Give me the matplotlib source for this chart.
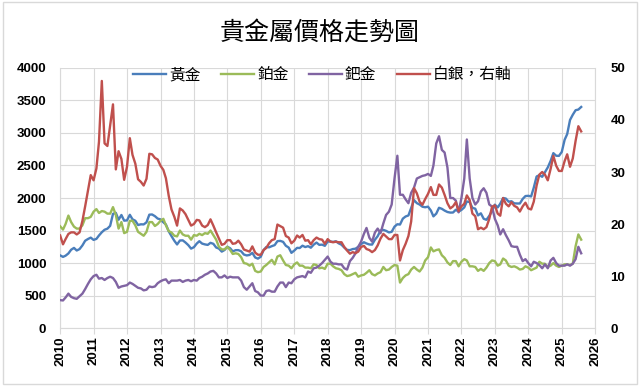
import matplotlib
matplotlib.use("Agg")
import matplotlib.pyplot as plt
import matplotlib.dates as mdates
import numpy as np
import pandas as pd

plt.rcParams['font.family'] = ['Noto Sans CJK TC', 'DejaVu Sans']

start_month = "2010-01-01"

gold = [
    1118, 1095, 1113, 1148, 1205, 1233, 1193, 1215, 1271, 1343, 1370, 1391,
    1356, 1372, 1424, 1474, 1512, 1529, 1572, 1756, 1772, 1666, 1739, 1652,
    1656, 1742, 1673, 1650, 1585, 1596, 1594, 1626, 1744, 1747, 1721, 1684,
    1671, 1627, 1593, 1487, 1414, 1343, 1286, 1347, 1349, 1316, 1275, 1222,
    1244, 1300, 1336, 1299, 1287, 1279, 1311, 1296, 1239, 1223, 1176, 1200,
    1251, 1227, 1179, 1198, 1199, 1181, 1131, 1117, 1125, 1157, 1086, 1068,
    1097, 1200, 1246, 1242, 1260, 1276, 1337, 1341, 1326, 1266, 1238, 1157,
    1192, 1234, 1231, 1267, 1246, 1260, 1236, 1283, 1315, 1280, 1283, 1265,
    1331, 1331, 1325, 1335, 1303, 1282, 1238, 1202, 1199, 1215, 1221, 1250,
    1291, 1320, 1301, 1286, 1284, 1359, 1413, 1500, 1510, 1495, 1471, 1480,
    1560, 1597, 1592, 1683, 1716, 1732, 1846, 1968, 1921, 1900, 1866, 1858,
    1867, 1808, 1718, 1760, 1850, 1834, 1807, 1785, 1776, 1777, 1820, 1790,
    1817, 1856, 1947, 1937, 1849, 1836, 1733, 1765, 1681, 1665, 1726, 1798,
    1898, 1855, 1913, 2000, 1992, 1943, 1951, 1918, 1916, 1916, 1986, 2030,
    2034, 2024, 2159, 2331, 2351, 2326, 2398, 2470, 2570, 2690, 2650, 2648,
    2709, 2895, 2983, 3200, 3280, 3350, 3360, 3400,
]

platinum = [
    1565, 1515, 1600, 1730, 1630, 1560, 1530, 1530, 1580, 1690, 1690, 1710,
    1790, 1830, 1770, 1800, 1790, 1760, 1760, 1860, 1740, 1530, 1630, 1460,
    1480, 1650, 1650, 1580, 1480, 1450, 1420, 1480, 1630, 1630, 1570, 1600,
    1650, 1680, 1580, 1490, 1470, 1420, 1410, 1500, 1440, 1420, 1420, 1360,
    1430, 1420, 1450, 1430, 1460, 1450, 1500, 1430, 1360, 1250, 1210, 1210,
    1250, 1200, 1140, 1150, 1140, 1090, 1000, 990, 960, 990, 880, 860,
    870, 940, 970, 1010, 1050, 980, 1100, 1120, 1040, 970, 960, 920,
    980, 1010, 960, 960, 930, 930, 920, 980, 970, 920, 930, 910,
    990, 990, 950, 920, 910, 890, 830, 800, 810, 830, 850, 790,
    810, 820, 850, 890, 830, 810, 840, 860, 940, 890, 900, 940,
    970, 960, 700, 770, 810, 830, 900, 940, 900, 870, 930, 1040,
    1090, 1240, 1180, 1200, 1210, 1120, 1080, 1010, 970, 1030, 1030, 950,
    1020, 1060, 1040, 950, 950, 940, 880, 910, 880, 930, 1000, 1040,
    1030, 960, 980, 1070, 1040, 960, 940, 950, 930, 900, 910, 950,
    930, 890, 910, 930, 1020, 990, 990, 940, 960, 1000, 960, 940,
    960, 980, 980, 970, 990, 1260, 1440, 1360,
]

palladium = [
    430, 425, 470, 530, 480, 460, 450, 490, 530, 600, 680, 750,
    800, 820, 760, 770, 740, 770, 790, 770, 710, 620, 640, 650,
    660, 700, 680, 650, 620, 610, 580, 590, 640, 630, 640, 690,
    720, 740, 750, 690, 730, 730, 730, 740, 710, 730, 740, 720,
    740, 730, 770, 790, 820, 840, 870, 880, 840, 780, 780, 810,
    770, 790, 780, 780, 780, 730, 630, 590, 640, 690, 570, 550,
    500, 500, 570, 580, 560, 560, 640, 700, 700, 630, 700, 690,
    750, 780, 790, 800, 780, 870, 850, 920, 930, 960, 1000, 1050,
    1100, 1020, 990, 990, 980, 980, 920, 900, 1030, 1080, 1150, 1250,
    1330, 1450, 1540, 1390, 1330, 1470, 1530, 1460, 1610, 1740, 1790, 1900,
    2300, 2650, 2050, 2050, 1980, 1920, 2080, 2160, 2300, 2320, 2340, 2350,
    2370, 2340, 2500, 2840, 2950, 2740, 2700, 2470, 2000, 2000, 1960, 1780,
    2000, 2300, 2900, 2300, 2000, 1900, 1950, 2100, 2150, 2080, 1900, 1870,
    1680, 1580, 1440, 1520, 1430, 1350, 1260, 1250, 1250, 1130, 1030, 1060,
    1000, 950, 1020, 1000, 970, 920, 980, 920, 1040, 1080, 1000, 960,
    960, 960, 980, 960, 990, 1060, 1250, 1150,
]

silver = [
    17.8, 16.1, 17.1, 18.1, 18.4, 18.4, 18.0, 18.4, 20.6, 23.4, 26.5, 29.4,
    28.4, 30.7, 35.8, 47.5, 35.5, 35.0, 39.0, 43.0, 30.5, 34.0, 32.5, 28.5,
    31.0, 36.5, 33.3, 31.6, 28.6, 28.1, 27.4, 28.7, 33.5, 33.4, 32.7, 32.4,
    31.2, 30.4, 28.8, 25.4, 22.8, 21.4, 19.7, 23.0, 22.6, 21.9, 20.8, 19.7,
    20.0, 20.8, 20.7, 19.7, 19.4, 19.8, 20.9, 19.7, 18.4, 17.2, 16.0, 16.2,
    16.9, 16.9, 16.2, 16.3, 16.8, 16.1, 15.1, 14.9, 14.7, 15.7, 14.5, 14.1,
    14.1, 15.0, 15.4, 16.3, 16.9, 17.1, 19.9, 19.6, 19.3, 17.7, 17.4, 16.3,
    16.8, 17.8, 17.4, 17.9, 16.8, 16.9, 16.1, 16.9, 17.4, 17.1, 17.0, 16.2,
    17.1, 16.6, 16.5, 16.6, 16.5, 16.5, 15.6, 14.9, 14.3, 14.6, 14.4, 14.7,
    15.6, 15.8, 15.2, 15.0, 14.6, 15.0, 15.9, 17.2, 18.1, 17.6, 17.1, 17.1,
    17.9, 17.9, 13.0, 15.0, 16.2, 17.7, 20.5, 26.9, 25.9, 24.3, 23.7, 24.8,
    25.8, 27.1, 25.6, 25.6, 27.6, 27.0, 25.6, 24.0, 23.0, 23.4, 24.2, 22.5,
    23.4, 23.9, 25.5, 24.6, 22.0, 21.5, 19.0, 19.3, 19.0, 19.4, 21.0, 23.3,
    23.6, 22.0, 21.6, 25.0, 23.9, 23.4, 24.2, 23.5, 23.2, 22.4, 23.4, 24.1,
    23.0, 22.8, 24.3, 27.4, 29.5, 30.0, 29.5, 28.4, 30.6, 33.1, 31.2, 30.2,
    30.2, 32.1, 33.4, 31.0, 32.6, 36.0, 38.8, 37.8,
]

labels = ["黃金", "鉑金", "鈀金", "白銀，右軸"]
colors = ["#4A7EBB", "#9BBB59", "#8064A2", "#C0504D"]
title = "貴金屬價格走勢圖"

dates = pd.date_range(start_month, periods=len(gold), freq="MS")

fig = plt.figure(figsize=(6.4, 3.86), dpi=100)
ax = fig.add_axes([0.094, 0.150, 0.836, 0.674])
ax2 = ax.twinx()

lw = 1.7
h1, = ax.plot(dates, gold, color=colors[0], lw=lw, label=labels[0], zorder=3)
h2, = ax.plot(dates, platinum, color=colors[1], lw=lw, label=labels[1], zorder=3)
h3, = ax.plot(dates, palladium, color=colors[2], lw=lw, label=labels[2], zorder=3)
h4, = ax2.plot(dates, silver, color=colors[3], lw=lw, label=labels[3], zorder=3)

ax.set_ylim(0, 4000)
ax.set_yticks(np.arange(0, 4001, 500))
ax2.set_ylim(0, 50)
ax2.set_yticks(np.arange(0, 51, 10))
ax.set_xlim(pd.Timestamp("2010-01-01"), pd.Timestamp("2026-01-01"))
ax.xaxis.set_major_locator(mdates.YearLocator(1))
ax.xaxis.set_major_formatter(mdates.DateFormatter("%Y"))

grid_c = "#D9D9D9"
ax2.grid(False)
ax.grid(True, color=grid_c, lw=0.8)
ax.set_axisbelow(True)
for a in (ax, ax2):
    for s in a.spines.values():
        s.set_visible(False)
ax.spines["bottom"].set_visible(True)
ax.spines["bottom"].set_color(grid_c)
ax.spines["left"].set_visible(True)
ax.spines["left"].set_color(grid_c)
ax2.spines["right"].set_visible(True)
ax2.spines["right"].set_color(grid_c)

ax.tick_params(axis="y", length=0, pad=10)
ax2.tick_params(axis="y", length=0, pad=11)
ax.tick_params(axis="x", length=4, color=grid_c, pad=2)
for t in ax.get_yticklabels() + ax2.get_yticklabels() + ax.get_xticklabels():
    t.set_fontfamily("Liberation Sans")
    t.set_fontweight("bold")
    t.set_fontsize(9.5)
for t in ax.get_xticklabels():
    t.set_rotation(90)

leg = ax2.legend(handles=[h1, h2, h3, h4], loc="upper center",
                 bbox_to_anchor=(0.49, 1.03), ncol=4, frameon=False,
                 fontsize=11.3, handlelength=2.1, columnspacing=1.3,
                 handletextpad=0.2, borderaxespad=0)

fig.text(0.5, 0.915, title, ha="center", va="center", fontsize=18,
         family=["Noto Sans CJK TC", "DejaVu Sans"])

border = plt.Rectangle((0.004, 0.005), 0.992, 0.99, transform=fig.transFigure,
                       fill=False, edgecolor="#D9D9D9", lw=1)
fig.patches.append(border)

fig.savefig("out.png", dpi=100)
